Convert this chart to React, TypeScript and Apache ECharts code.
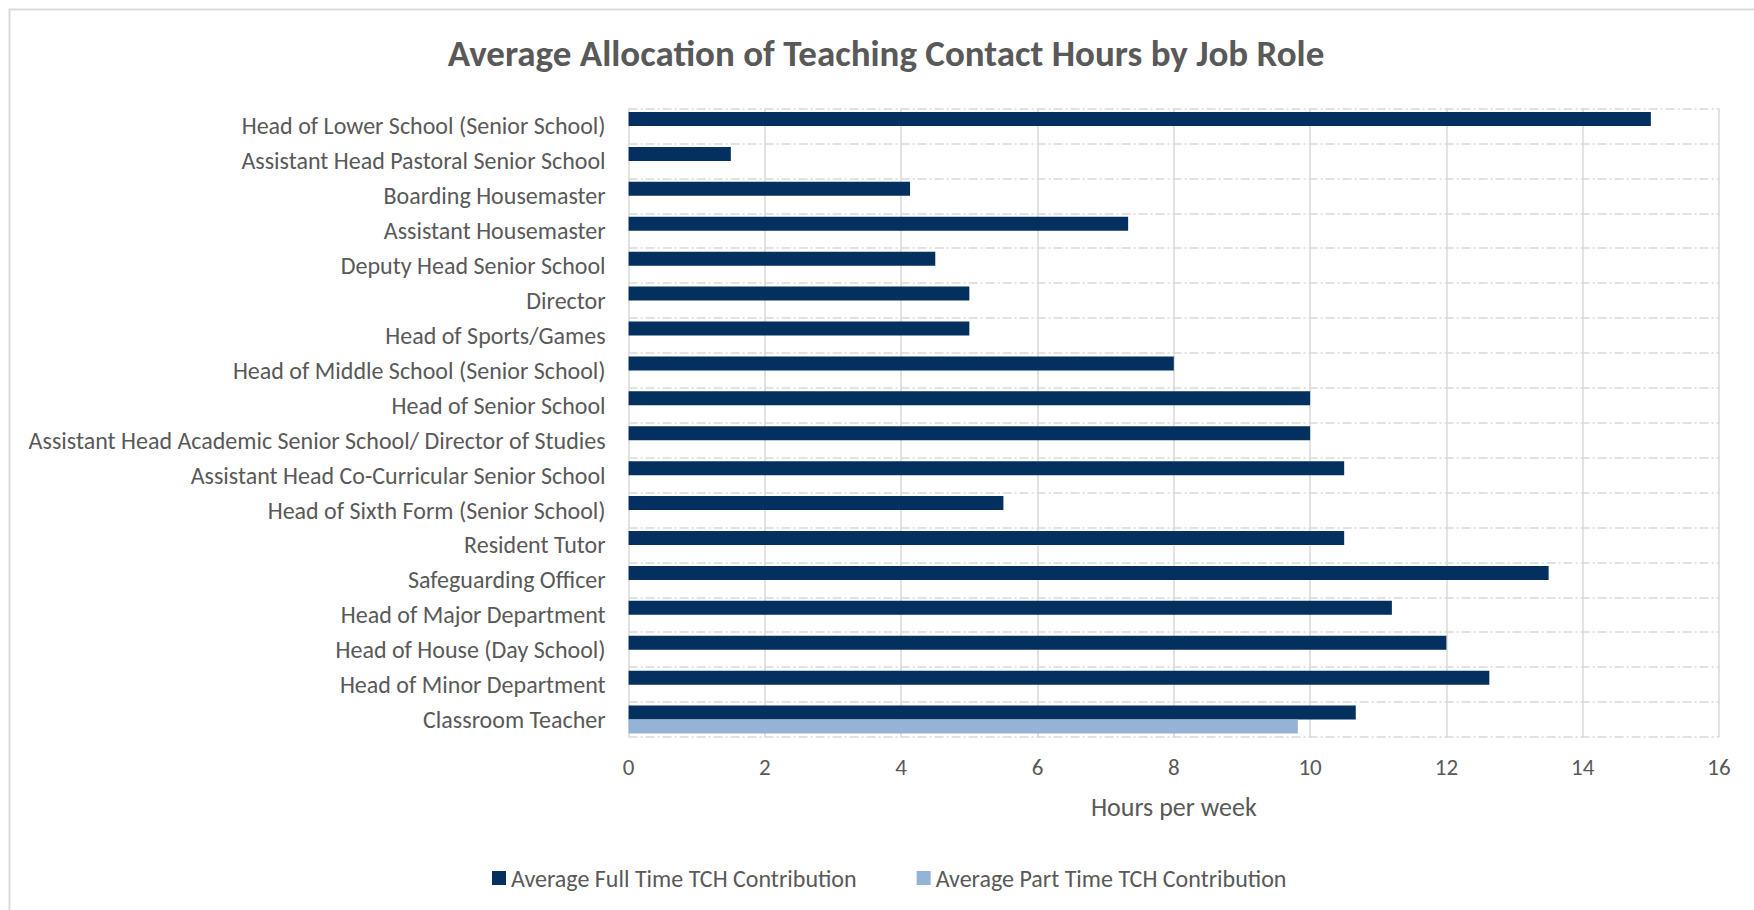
import React, { useEffect, useRef } from "react";
import * as echarts from "echarts";

const categories = [
  "Head of Lower School (Senior School)",
  "Assistant Head Pastoral Senior School",
  "Boarding Housemaster",
  "Assistant Housemaster",
  "Deputy Head Senior School",
  "Director",
  "Head of Sports/Games",
  "Head of Middle School (Senior School)",
  "Head of Senior School",
  "Assistant Head Academic Senior School/ Director of Studies",
  "Assistant Head Co-Curricular Senior School",
  "Head of Sixth Form (Senior School)",
  "Resident Tutor",
  "Safeguarding Officer",
  "Head of Major Department",
  "Head of House (Day School)",
  "Head of Minor Department",
  "Classroom Teacher",
];

const fullTime = [15, 1.5, 4.13, 7.33, 4.5, 5, 5, 8, 10, 10, 10.5, 5.5, 10.5, 13.5, 11.2, 12, 12.63, 10.67];
const partTime = [null, null, null, null, null, null, null, null, null, null, null, null, null, null, null, null, null, 9.82];

const seriesNames = ["Average Full Time TCH Contribution", "Average Part Time TCH Contribution"];
const xTicks = { min: 0, max: 16, interval: 2 };

const FONT = "Carlito, Lato, 'Open Sans', sans-serif";
const TEXT = "#595959";

export default function App() {
  const ref = useRef<HTMLDivElement>(null);
  useEffect(() => {
    if (!ref.current) return;
    const chart = echarts.init(ref.current, null, { renderer: "svg" });
    chart.setOption({
      animation: false,
      backgroundColor: "#ffffff",
      title: {
        text: "Average Allocation of Teaching Contact Hours by Job Role",
        left: 881,
        textAlign: "center",
        top: 30,
        textStyle: { color: TEXT, fontFamily: FONT, fontWeight: "bold", fontSize: 37 },
      },
      graphic: [
        {
          type: "rect",
          shape: { x: 9.5, y: 9.5, width: 1800, height: 1000 },
          style: { fill: "none", stroke: "#d9d9d9", lineWidth: 2 },
          silent: true,
        },
      ],
      legend: {
        left: 487,
        top: 861,
        icon: "rect",
        itemWidth: 14,
        itemHeight: 14,
        itemGap: 60,
        textStyle: { color: TEXT, fontFamily: FONT, fontSize: 24, padding: [0, 0, 0, 0] },
        data: seriesNames,
      },
      grid: { left: 628.6, right: 35, top: 108.5, bottom: 173, containLabel: false },
      xAxis: {
        type: "value",
        min: xTicks.min,
        max: xTicks.max,
        interval: xTicks.interval,
        name: "Hours per week",
        nameLocation: "middle",
        nameGap: 57,
        nameTextStyle: { color: TEXT, fontFamily: FONT, fontSize: 26 },
        axisLine: { show: false },
        axisTick: { show: false },
        axisLabel: { color: TEXT, fontFamily: FONT, fontSize: 23, margin: 18 },
        splitLine: { show: true, lineStyle: { color: "#d9d9d9", width: 1.5, type: "solid" } },
      },
      yAxis: {
        type: "category",
        inverse: true,
        data: categories,
        axisLine: { show: false },
        axisTick: { show: false },
        axisLabel: { color: TEXT, fontFamily: FONT, fontSize: 24, margin: 23, padding: [0, 0, 2, 0] },
        splitLine: {
          show: true,
          lineStyle: { color: "#d9d9d9", width: 1.5, type: [9, 3, 2, 3] },
        },
      },
      series: [
        {
          name: seriesNames[0],
          type: "bar",
          data: fullTime,
          barCategoryGap: "20%",
          barGap: "0%",
          itemStyle: { color: "#03305f" },
        },
        {
          name: seriesNames[1],
          type: "bar",
          data: partTime,
          barCategoryGap: "20%",
          barGap: "0%",
          itemStyle: { color: "#95b3d7" },
        },
      ],
    });
    return () => chart.dispose();
  }, []);
  return (
    <div
      ref={ref}
      style={{ position: "absolute", left: 0, top: 0, width: 1754, height: 910 }}
    />
  );
}
